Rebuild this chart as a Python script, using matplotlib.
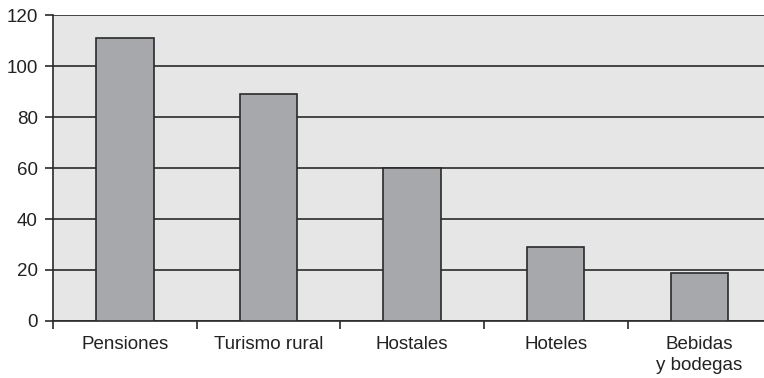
import matplotlib.pyplot as plt
import numpy as np

plt.rcParams['font.family'] = ['Liberation Sans', 'DejaVu Sans']

categories = ["Pensiones", "Turismo rural", "Hostales", "Hoteles", "Bebidas\ny bodegas"]
values = [111, 89, 60, 29, 19]
y_ticks = [0, 20, 40, 60, 80, 100, 120]

fig = plt.figure(figsize=(7.64, 3.78), dpi=100)
ax = fig.add_axes([0.0694, 0.1508, 0.94, 0.8095])
ax.set_facecolor("#e6e6e7")

x = np.arange(len(categories))
ax.bar(x, values, width=0.4, color="#a7a8ab", edgecolor="#2a2a2a", linewidth=1.2, zorder=3)

ax.set_xlim(-0.5, len(categories) - 0.5)
ax.set_ylim(0, 120)
ax.set_yticks(y_ticks)
ax.yaxis.grid(True, color="#2a2a2a", linewidth=1.2, zorder=1)
ax.set_axisbelow(True)

# category boundaries as major ticks, labels on minor ticks at centres
ax.set_xticks(np.arange(len(categories) + 1) - 0.5)
ax.set_xticklabels([])
ax.set_xticks(x, minor=True)
ax.set_xticklabels(categories, minor=True, fontsize=13.5, color="#222222", linespacing=1.25)
ax.tick_params(axis="x", which="minor", length=0, pad=11)
ax.tick_params(axis="x", which="major", length=6, width=1.2, color="#2a2a2a")
ax.tick_params(axis="y", length=6, width=1.2, color="#2a2a2a", labelsize=13.5,
               labelcolor="#222222", pad=5)

for s in ["top", "right"]:
    ax.spines[s].set_visible(False)
for s in ["left", "bottom"]:
    ax.spines[s].set_color("#2a2a2a")
    ax.spines[s].set_linewidth(1.2)

fig.savefig("out.png", dpi=100)
